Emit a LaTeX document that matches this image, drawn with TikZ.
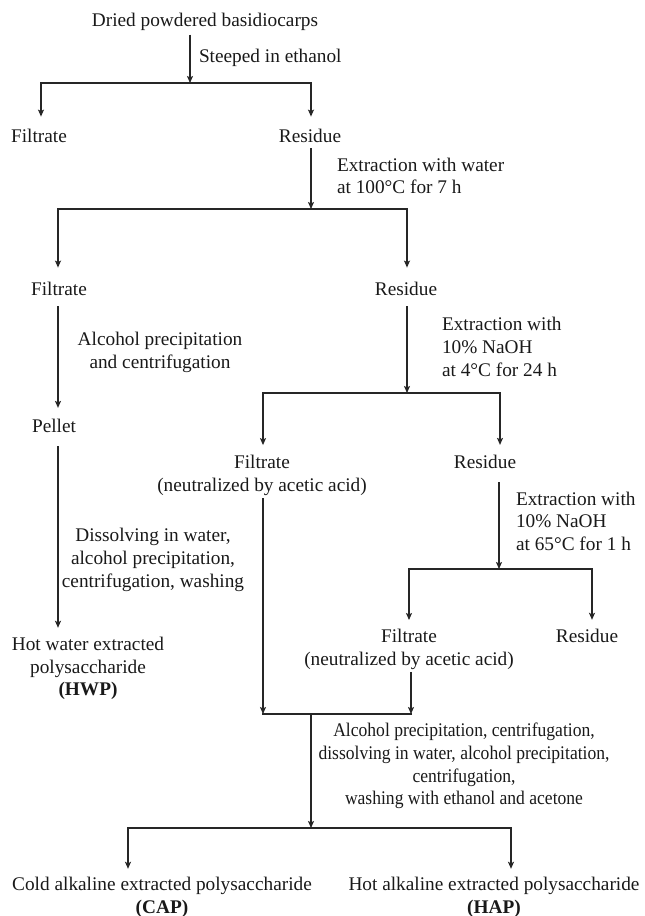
\documentclass[tikz,border=0pt]{standalone}
\usepackage{fontspec}
\setmainfont{Liberation Serif}
\usetikzlibrary{arrows.meta}
\begin{document}
\begin{tikzpicture}[x=1pt,y=-1pt,
  txt/.style={inner sep=0pt,outer sep=0pt,text=black!90,font=\fontsize{19.3}{22.8}\selectfont},
  narrow/.style={font=\fontsize{19.3}{22.8}\selectfont\addfontfeature{FakeStretch=0.91}},
  con/.style={line width=1.3pt,draw=black!85,line cap=rect},
  arr/.style={line width=1.3pt,draw=black!85,-{Stealth[length=7pt,width=6pt,inset=1.5pt]}},
]
\useasboundingbox (0,0) rectangle (645,916);

% nodes
\node[txt,anchor=base] (top) at (205,26.5) {Dried powdered basidiocarps};
\node[txt,anchor=base west] (st) at (199,62.7) {Steeped in ethanol};
\node[txt,anchor=base] (f1) at (39,142) {Filtrate};
\node[txt,anchor=base] (r1) at (310,142) {Residue};
\node[txt,anchor=north west,align=left] (ew) at (337,157.8) {Extraction with water\\at 100°C for 7 h};
\node[txt,anchor=base] (f2) at (59,295) {Filtrate};
\node[txt,anchor=base] (r2) at (406,295) {Residue};
\node[txt,anchor=north,align=center] (ap) at (160,332.5) {Alcohol precipitation\\and centrifugation};
\node[txt,anchor=base] (pel) at (54,432.3) {Pellet};
\node[txt,anchor=north,align=center] (dis) at (153,528.3) {Dissolving in water,\\alcohol precipitation,\\centrifugation, washing};
\node[txt,anchor=north,align=center] (hwp) at (88,636.8) {Hot water extracted\\polysaccharide\\\textbf{(HWP)}};
\node[txt,anchor=north west,align=left] (e4) at (442,317.5) {Extraction with\\10\% NaOH\\at 4°C for 24 h};
\node[txt,anchor=north,align=center] (f3) at (262,455.1) {Filtrate\\(neutralized by acetic acid)};
\node[txt,anchor=base] (r3) at (485,468.3) {Residue};
\node[txt,anchor=north west,align=left] (e6) at (516,491.8) {Extraction with\\10\% NaOH\\at 65°C for 1 h};
\node[txt,anchor=north,align=center] (f4) at (409,629.5) {Filtrate\\(neutralized by acetic acid)};
\node[txt,anchor=base] (r4) at (587,642.7) {Residue};
\node[txt,narrow,anchor=north,align=center] (wash) at (464,722.8) {Alcohol precipitation, centrifugation,\\dissolving in water, alcohol precipitation,\\centrifugation,\\washing with ethanol and acetone};
\node[txt,anchor=north,align=center] (cap) at (162,876.8) {Cold alkaline extracted polysaccharide\\\textbf{(CAP)}};
\node[txt,anchor=north,align=center] (hap) at (494,876.8) {Hot alkaline extracted polysaccharide\\\textbf{(HAP)}};

% branch points
\coordinate (b1) at (190,83);  \coordinate (b1l) at (41,83);  \coordinate (b1r) at (311,83);
\coordinate (b2) at (311,209); \coordinate (b2l) at (58,209); \coordinate (b2r) at (407,209);
\coordinate (b3) at (407,393); \coordinate (b3l) at (263,393); \coordinate (b3r) at (500,393);
\coordinate (b4) at (499,569); \coordinate (b4l) at (409,569); \coordinate (b4r) at (592,569);
\coordinate (m) at (311,714);  \coordinate (ml) at (263,714); \coordinate (mr) at (411,714);
\coordinate (b5) at (311,828); \coordinate (b5l) at (128,828); \coordinate (b5r) at (511,828);

% connectors
\draw[arr,shorten <=4pt] (top.south -| b1) -- (b1);
\draw[con] (b1l) -- (b1r);
\draw[arr,shorten >=12pt] (b1l) -- (b1l |- f1.north);
\draw[arr,shorten >=12pt] (b1r) -- (b1r |- r1.north);

\draw[arr,shorten <=6pt] (r1.south -| b2) -- (b2);
\draw[con] (b2l) -- (b2r);
\draw[arr,shorten >=14pt] (b2l) -- (b2l |- f2.north);
\draw[arr,shorten >=14pt] (b2r) -- (b2r |- r2.north);

\draw[arr,shorten <=11pt,shorten >=11pt] (f2.south -| b2l) -- (b2l |- pel.north);
\draw[arr,shorten <=14pt,shorten >=9pt] (pel.south -| b2l) -- (b2l |- hwp.north);

\draw[arr,shorten <=11pt] (r2.south -| b3) -- (b3);
\draw[con] (b3l) -- (b3r);
\draw[arr,shorten >=10pt] (b3l) -- (b3l |- f3.north);
\draw[arr,shorten >=10pt] (b3r) -- (b3r |- r3.north);

\draw[arr,shorten <=3pt] (f3.south -| ml) -- (ml);

\draw[arr,shorten <=14pt] (r3.south -| b4) -- (b4);
\draw[con] (b4l) -- (b4r);
\draw[arr,shorten >=9.5pt] (b4l) -- (b4l |- f4.north);
\draw[arr,shorten >=9.5pt] (b4r) -- (b4r |- r4.north);

\draw[arr,shorten <=2pt] (f4.south -| mr) -- (mr);
\draw[con] (ml) -- (mr);
\draw[arr] (m) -- (b5);
\draw[con] (b5l) -- (b5r);
\draw[arr,shorten >=8pt] (b5l) -- (b5l |- cap.north);
\draw[arr,shorten >=8pt] (b5r) -- (b5r |- hap.north);
\end{tikzpicture}
\end{document}
